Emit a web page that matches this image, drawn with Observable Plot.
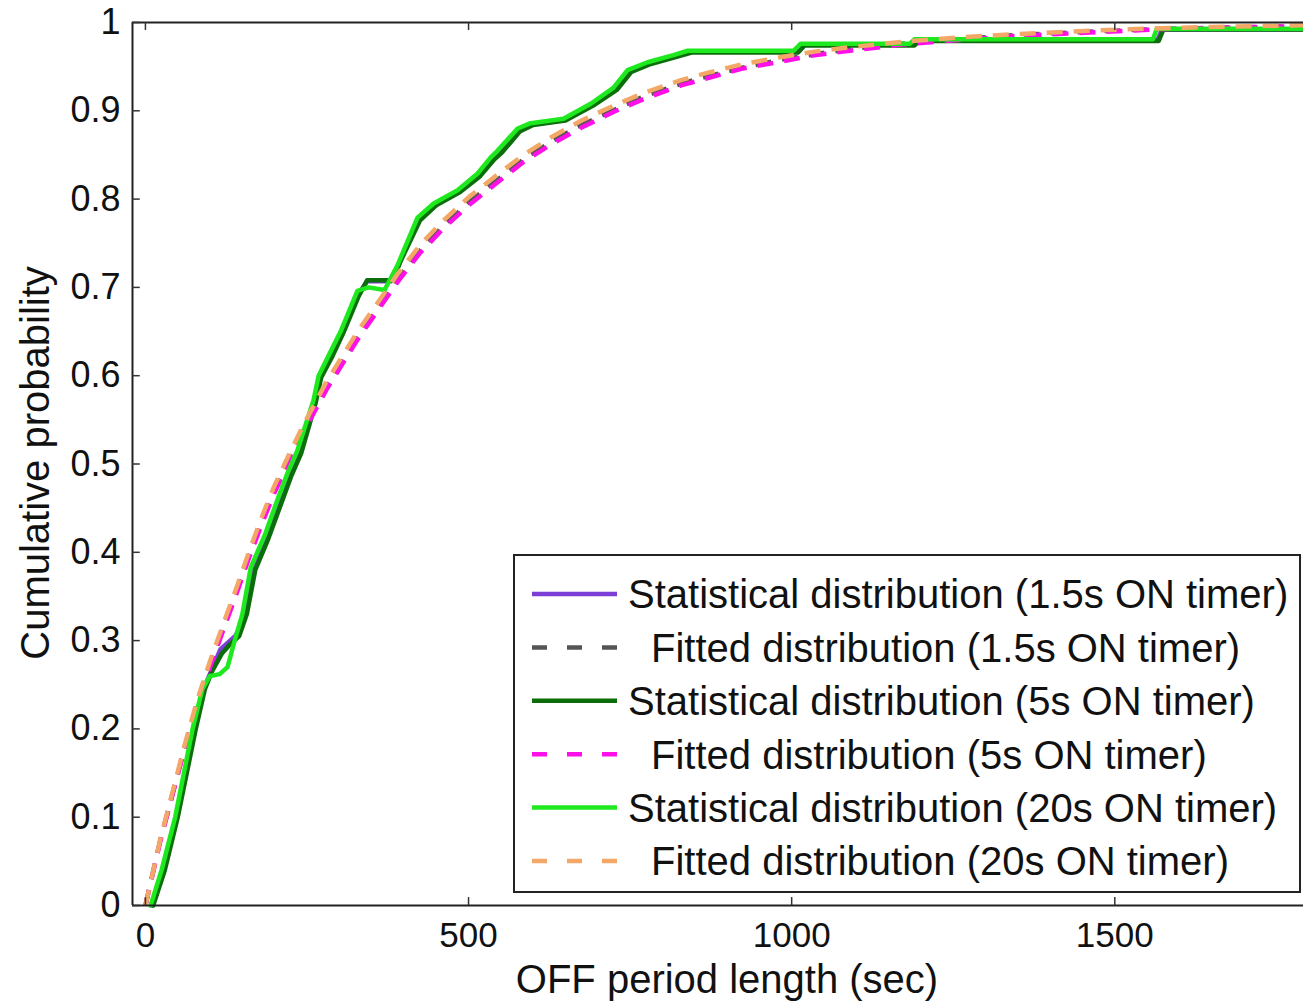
<!DOCTYPE html>
<html><head><meta charset="utf-8">
<script src="https://cdn.jsdelivr.net/npm/d3@7"></script>
<script src="https://cdn.jsdelivr.net/npm/@observablehq/plot@0.6"></script>
<style>body{margin:0;background:#fff} svg{display:block;overflow:hidden}</style>
</head><body><div id="chart"></div>
<script>
// ---- Data ----
const xTicks = [0, 500, 1000, 1500];
const yTicks = [0, 0.1, 0.2, 0.3, 0.4, 0.5, 0.6, 0.7, 0.8, 0.9, 1];
const yTickLabels = ["0", "0.1", "0.2", "0.3", "0.4", "0.5", "0.6", "0.7", "0.8", "0.9", "1"];

// Statistical distribution (1.5s ON timer)
const stat15X = [10, 28, 48, 76, 90, 102, 116, 128, 140, 155, 168, 188, 208, 224, 239, 262, 270, 288, 304, 329, 343, 380, 393, 423, 448, 485, 516, 538, 550, 578, 598, 648, 691, 728, 750, 780, 820, 843, 1008, 1018, 1188, 1195, 1566, 1573, 1800];
const stat15Y = [0, 0.04, 0.1, 0.2, 0.245, 0.266, 0.29, 0.298, 0.306, 0.33, 0.381, 0.417, 0.456, 0.488, 0.513, 0.57, 0.599, 0.624, 0.649, 0.692, 0.707, 0.707, 0.728, 0.777, 0.794, 0.809, 0.827, 0.846, 0.854, 0.878, 0.885, 0.89, 0.907, 0.925, 0.945, 0.954, 0.962, 0.967, 0.967, 0.975, 0.975, 0.98, 0.98, 0.992, 0.992];
// Statistical distribution (5s ON timer)
const stat5X = [12, 30, 50, 78, 92, 103, 118, 130, 145, 157, 170, 190, 210, 226, 241, 263, 272, 290, 306, 330, 343, 383, 395, 425, 450, 487, 518, 540, 552, 580, 600, 650, 693, 730, 752, 782, 822, 845, 1010, 1020, 1190, 1197, 1568, 1575, 1800];
const stat5Y = [0, 0.04, 0.1, 0.2, 0.245, 0.265, 0.285, 0.295, 0.305, 0.33, 0.38, 0.415, 0.455, 0.487, 0.512, 0.568, 0.598, 0.623, 0.648, 0.69, 0.708, 0.708, 0.73, 0.776, 0.793, 0.808, 0.826, 0.845, 0.853, 0.877, 0.884, 0.889, 0.906, 0.924, 0.944, 0.953, 0.961, 0.966, 0.966, 0.974, 0.974, 0.979, 0.979, 0.992, 0.992];
// Statistical distribution (20s ON timer)
const stat20X = [8, 25, 46, 73, 88, 100, 115, 127, 137, 150, 163, 185, 204, 220, 235, 260, 268, 285, 302, 328, 345, 370, 390, 421, 446, 483, 514, 534, 545, 576, 596, 647, 689, 724, 746, 777, 817, 839, 1003, 1014, 1183, 1190, 1559, 1565, 1800];
const stat20Y = [0, 0.04, 0.1, 0.2, 0.245, 0.26, 0.262, 0.27, 0.297, 0.33, 0.383, 0.42, 0.459, 0.49, 0.515, 0.572, 0.6, 0.625, 0.65, 0.696, 0.70, 0.697, 0.725, 0.779, 0.795, 0.81, 0.829, 0.847, 0.855, 0.88, 0.886, 0.891, 0.908, 0.926, 0.946, 0.955, 0.963, 0.968, 0.968, 0.976, 0.976, 0.981, 0.981, 0.993, 0.993];

// Fitted distributions (shared x grid)
const fitX = [0, 23, 40, 60, 80, 100, 120, 140, 160, 180, 200, 225, 245, 280, 330, 355, 390, 425, 460, 500, 545, 585, 630, 675, 725, 770, 830, 875, 925, 985, 1035, 1090, 1170, 1255, 1350, 1470, 1590, 1800];
const fit15Y = [0, 0.074, 0.121, 0.177, 0.228, 0.272, 0.313, 0.353, 0.395, 0.434, 0.47, 0.509, 0.539, 0.587, 0.646, 0.672, 0.709, 0.742, 0.769, 0.796, 0.822, 0.845, 0.866, 0.884, 0.901, 0.916, 0.931, 0.94, 0.949, 0.958, 0.964, 0.97, 0.976, 0.981, 0.986, 0.99, 0.993, 0.996];
const fit5Y  = [0, 0.073, 0.12, 0.176, 0.227, 0.27, 0.311, 0.351, 0.393, 0.432, 0.468, 0.507, 0.537, 0.584, 0.643, 0.669, 0.706, 0.739, 0.766, 0.793, 0.819, 0.842, 0.863, 0.881, 0.899, 0.913, 0.929, 0.938, 0.948, 0.956, 0.963, 0.968, 0.975, 0.98, 0.985, 0.989, 0.993, 0.996];
const fit20Y = [0, 0.075, 0.123, 0.18, 0.232, 0.277, 0.318, 0.358, 0.4, 0.44, 0.476, 0.515, 0.545, 0.593, 0.652, 0.678, 0.715, 0.748, 0.775, 0.802, 0.828, 0.85, 0.871, 0.889, 0.906, 0.92, 0.935, 0.944, 0.953, 0.961, 0.967, 0.972, 0.978, 0.983, 0.987, 0.991, 0.994, 0.997];

const seriesNames = [
  "Statistical distribution (1.5s ON timer)",
  "Fitted distribution (1.5s ON timer)",
  "Statistical distribution (5s ON timer)",
  "Fitted distribution (5s ON timer)",
  "Statistical distribution (20s ON timer)",
  "Fitted distribution (20s ON timer)"
];
const seriesColors = ["#7d3ed6", "#555555", "#0b6e0b", "#ff10e8", "#1ee81e", "#f4a868"];
const seriesDashed = [false, true, false, true, false, true];

// ---- Build tables ----
const zip = (xs, ys) => xs.map((x, i) => ({x, y: ys[i]}));
const seriesData = [
  zip(stat15X, stat15Y), zip(fitX, fit15Y),
  zip(stat5X, stat5Y),   zip(fitX, fit5Y),
  zip(stat20X, stat20Y), zip(fitX, fit20Y)
];

const W = 1303, H = 1001;
const xMin = -20, xMax = 1792;
const font = "'Liberation Sans', Arial, Helvetica, sans-serif";

const marks = [];
seriesData.forEach((d, i) => {
  marks.push(Plot.line(d, {
    x: "x", y: "y", stroke: seriesColors[i],
    strokeWidth: 4.5,
    strokeDasharray: seriesDashed[i] ? "16,11" : null,
    strokeLinejoin: "round", strokeLinecap: seriesDashed[i] ? "butt" : "round"
  }));
});

const plot = Plot.plot({
  width: W, height: H,
  marginLeft: 132, marginRight: 0, marginTop: 22, marginBottom: 96,
  style: {background: "#fff", fontFamily: font, color: "#111"},
  x: {domain: [xMin, xMax]},
  y: {domain: [0, 1]},
  marks: [
    ...marks,
    // frame
    Plot.ruleY([0, 1], {stroke: "#222", strokeWidth: 2}),
    Plot.ruleX([xMin], {stroke: "#222", strokeWidth: 2}),
    // inward ticks
    Plot.ruleX(xTicks, {y1: 0, y2: 0.009, stroke: "#333", strokeWidth: 1.5}),
    Plot.ruleX(xTicks, {y1: 1, y2: 0.991, stroke: "#333", strokeWidth: 1.5}),
    Plot.ruleY(yTicks, {x1: xMin, x2: xMin + 12, stroke: "#333", strokeWidth: 1.5}),
    // tick labels
    Plot.axisX({ticks: xTicks, tickSize: 0, tickPadding: 17, fontSize: 35, label: null, tickFormat: d => String(d)}),
    Plot.axisY({ticks: yTicks, tickSize: 0, tickPadding: 12, fontSize: 36, label: null, tickFormat: (d, i) => yTickLabels[i]})
  ]
});

const svg = d3.select(plot);
svg.selectAll("text").attr("fill", "#111");

// axis titles
svg.append("text").attr("x", 727).attr("y", 993)
  .attr("text-anchor", "middle").attr("font-family", font).attr("font-size", 40).attr("fill", "#111")
  .text("OFF period length (sec)");
svg.append("text").attr("transform", "translate(49,463) rotate(-90)")
  .attr("text-anchor", "middle").attr("font-family", font).attr("font-size", 40).attr("fill", "#111")
  .text("Cumulative probability");

// legend
const lg = svg.append("g").attr("text-anchor", "start");
lg.append("rect").attr("x", 514).attr("y", 555).attr("width", 786).attr("height", 337)
  .attr("fill", "#fff").attr("stroke", "#222").attr("stroke-width", 2);
seriesNames.forEach((name, i) => {
  const cy = 594 + i * 53.4;
  lg.append("line").attr("x1", 532).attr("x2", 617).attr("y1", cy).attr("y2", cy)
    .attr("stroke", seriesColors[i]).attr("stroke-width", 4.5)
    .attr("stroke-dasharray", seriesDashed[i] ? "15,20" : null);
  lg.append("text").attr("x", seriesDashed[i] ? 651 : 628).attr("y", cy).attr("dy", "0.36em")
    .attr("text-anchor", "start")
    .attr("font-family", font).attr("font-size", 40).attr("fill", "#111")
    .text(name);
});

document.getElementById("chart").appendChild(plot);
</script>
</body></html>
